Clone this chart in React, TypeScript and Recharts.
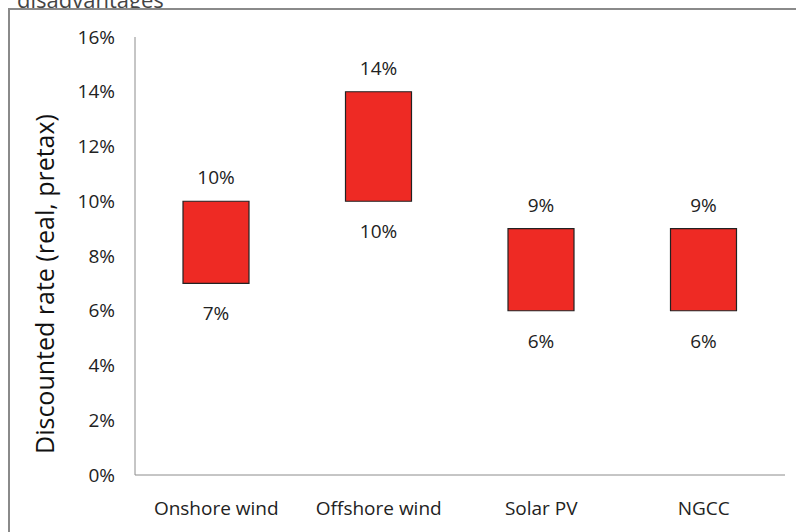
import React from "react";
import { BarChart, Bar, XAxis, YAxis, LabelList, Label } from "recharts";

// floating bars: low -> high discount rate, in %
const categories = ["Onshore wind", "Offshore wind", "Solar PV", "NGCC"];
const lowRates = [7, 10, 6, 6];
const highRates = [10, 14, 9, 9];
const yTicks = [0, 2, 4, 6, 8, 10, 12, 14, 16];

const data = categories.map((name, i) => ({
  name,
  low: lowRates[i],
  high: highRates[i],
  range: [lowRates[i], highRates[i]],
}));

const FONT = "'Open Sans', sans-serif";

const RangeLabels = (props: any) => {
  const { x, y, width, height, index } = props;
  const d = data[index];
  const cx = x + width / 2;
  return (
    <g>
      <text x={cx} y={y - 24} textAnchor="middle" dominantBaseline="central" fontSize={19} fill="#222" fontFamily={FONT}>
        {d.high}%
      </text>
      <text x={cx} y={y + height + 30} textAnchor="middle" dominantBaseline="central" fontSize={19} fill="#222" fontFamily={FONT}>
        {d.low}%
      </text>
    </g>
  );
};

export default function App() {
  return (
    <div style={{ position: "fixed", left: 0, top: 0, width: 796, height: 532, background: "#fff", overflow: "hidden" }}>
      <div style={{ position: "absolute", left: 17, top: -16, fontFamily: FONT, fontSize: 22, color: "#444" }}>
        disadvantages
      </div>
      <div
        style={{
          position: "absolute",
          left: 8,
          top: 8,
          width: 820,
          height: 560,
          borderLeft: "2px solid #8a8a8a",
          borderTop: "2px solid #8a8a8a",
          background: "#fff",
        }}
      />
      <div style={{ position: "absolute", left: 0, top: 0 }}>
        <BarChart width={796} height={532} data={data} margin={{ top: 37, right: 11, left: 0, bottom: 0 }} barSize={66}>
          <XAxis
            dataKey="name"
            height={57}
            tickLine={false}
            tickSize={0}
            tickMargin={27}
            axisLine={{ stroke: "#8c8c8c" }}
            tick={{ fontSize: 19, fill: "#222", fontFamily: FONT }}
          />
          <YAxis
            width={135}
            domain={[0, 16]}
            ticks={yTicks}
            interval={0}
            tickFormatter={(v: number) => `${v}%`}
            tickLine={false}
            tickSize={0}
            tickMargin={20}
            axisLine={{ stroke: "#8c8c8c" }}
            tick={{ fontSize: 19, fill: "#222", fontFamily: FONT }}
          >
            <Label
              content={() => (
                <text
                  x={44}
                  y={284}
                  transform="rotate(-90 44 284)"
                  textAnchor="middle"
                  dominantBaseline="central"
                  fontSize={25}
                  fill="#111"
                  fontFamily={FONT}
                >
                  Discounted rate (real, pretax)
                </text>
              )}
            />
          </YAxis>
          <Bar dataKey="range" fill="#ee2a24" stroke="#222" strokeWidth={1.2} isAnimationActive={false}>
            <LabelList dataKey="range" content={RangeLabels} />
          </Bar>
        </BarChart>
      </div>
    </div>
  );
}
